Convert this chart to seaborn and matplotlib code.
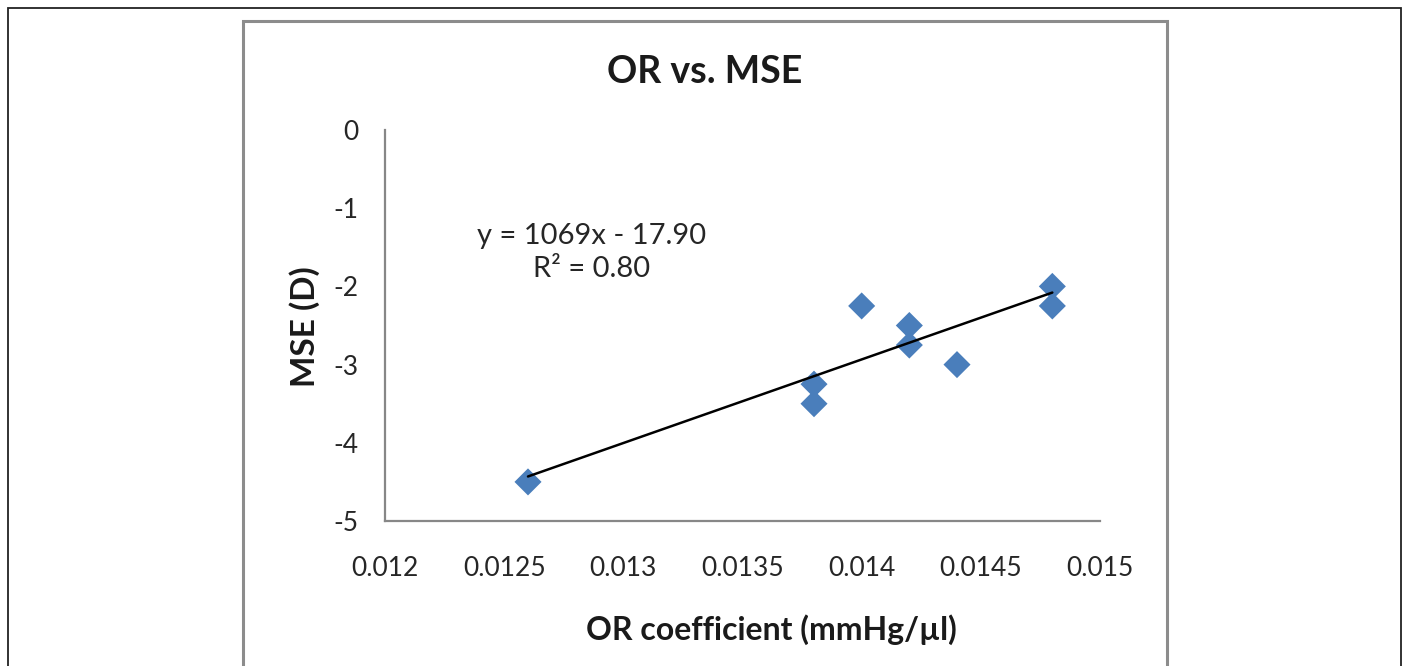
import matplotlib
matplotlib.use("Agg")
import matplotlib.pyplot as plt
from matplotlib.patches import Rectangle
import numpy as np
import pandas as pd
import seaborn as sns

# Ocular rigidity coefficient vs. mean spherical equivalent
or_coef = [0.0126, 0.0138, 0.0138, 0.0140, 0.0142, 0.0142, 0.0144, 0.0148, 0.0148]
mse = [-4.5, -3.25, -3.5, -2.25, -2.5, -2.75, -3.0, -2.0, -2.25]

# Linear trend line as reported
slope = 1069
intercept = -17.90
r_squared = 0.80

x_ticks = [0.012, 0.0125, 0.013, 0.0135, 0.014, 0.0145, 0.015]
x_tick_labels = ["0.012", "0.0125", "0.013", "0.0135", "0.014", "0.0145", "0.015"]
y_ticks = [0, -1, -2, -3, -4, -5]
y_tick_labels = ["0", "-1", "-2", "-3", "-4", "-5"]

sns.set_style("white")
plt.rcParams["font.family"] = ["Lato", "DejaVu Sans"]
plt.rcParams["axes.unicode_minus"] = False

W, H = 1405, 666
fig = plt.figure(figsize=(W / 100, H / 100), dpi=100)
ax = fig.add_axes([385 / W, 1 - 521 / H, (1100 - 385) / W, (521 - 130) / H])

df = pd.DataFrame({"x": or_coef, "y": mse})
sns.scatterplot(data=df, x="x", y="y", marker="D", s=190, color="#4a7ebb",
                edgecolor="none", ax=ax, zorder=3, clip_on=False)

fit_x = np.array([min(or_coef), max(or_coef)])
fit_df = pd.DataFrame({"x": fit_x, "y": slope * fit_x + intercept})
sns.lineplot(data=fit_df, x="x", y="y", color="black", linewidth=1.8, ax=ax, zorder=4)

ax.set_xlim(0.012, 0.015)
ax.set_ylim(-5, 0)
ax.set_xticks(x_ticks)
ax.set_xticklabels(x_tick_labels)
ax.set_yticks(y_ticks)
ax.set_yticklabels(y_tick_labels)

for side in ["top", "right"]:
    ax.spines[side].set_visible(False)
for side in ["left", "bottom"]:
    ax.spines[side].set_color("#878787")
    ax.spines[side].set_linewidth(1.6)
ax.tick_params(axis="both", which="major", direction="out", length=7, width=1.6,
               color="#878787", labelsize=19, labelcolor="#262626", pad=12)
ax.tick_params(axis="x", pad=18)

ax.set_xlabel("OR coefficient (mmHg/µl)", fontsize=23, fontweight="bold",
              color="#1a1a1a")
ax.xaxis.set_label_coords((771 - 385) / (1100 - 385), -(630 - 521) / (521 - 130))
ax.xaxis.label.set_va("center")
ax.set_ylabel("MSE (D)", fontsize=24, fontweight="bold", color="#1a1a1a")
ax.yaxis.set_label_coords(-(385 - 305) / (1100 - 385), (521 - 327) / (521 - 130))
ax.yaxis.label.set_va("center")

fig.text(705 / W, 1 - 72 / H, "OR vs. MSE", ha="center", va="center",
         fontsize=27, fontweight="bold", color="#1a1a1a")

ax.text(0.012868, -1.35, f"y = {slope}x - {abs(intercept):.2f}", ha="center", va="center",
        fontsize=21, color="#262626")
ax.text(0.012868, -1.78, f"R² = {r_squared:.2f}", ha="center", va="center",
        fontsize=21, color="#262626")

# Outer frame and chart-area border
fig.patches.append(Rectangle((8 / W, -0.05), (1401 - 8) / W, 1.05 - 8 / H,
                             transform=fig.transFigure, fill=False,
                             edgecolor="#222222", linewidth=1.3))
fig.patches.append(Rectangle((243 / W, -0.05), (1167 - 243) / W, 1.05 - 21 / H,
                             transform=fig.transFigure, fill=False,
                             edgecolor="#8c8c8c", linewidth=2.2))

fig.savefig("out.png", dpi=100)
